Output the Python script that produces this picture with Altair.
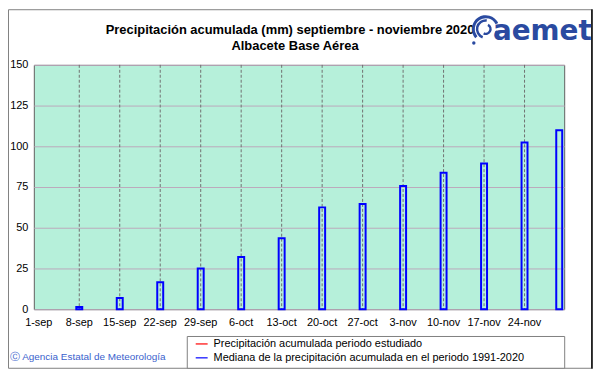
import altair as alt
import pandas as pd

# ---- data ----
bar_days = [7, 14, 21, 28, 35, 42, 49, 56, 63, 70, 77, 84, 90]
median_vals = [1.4, 6.9, 16.5, 25.0, 32.0, 43.6, 62.5, 64.6, 75.6, 83.7, 89.4, 102.3, 109.8]
tick_days = [0, 7, 14, 21, 28, 35, 42, 49, 56, 63, 70, 77, 84]
tick_labels = ["1-sep", "8-sep", "15-sep", "22-sep", "29-sep", "6-oct", "13-oct",
               "20-oct", "27-oct", "3-nov", "10-nov", "17-nov", "24-nov"]
y_ticks = [0, 25, 50, 75, 100, 125, 150]
title_line1 = "Precipitación acumulada (mm) septiembre - noviembre 2020"
title_line2 = "Albacete Base Aérea"
legend_labels = ["Precipitación acumulada periodo estudiado",
                 "Mediana de la precipitación acumulada en el periodo 1991-2020"]
legend_colors = ["#ff0000", "#0000ff"]
credit = "Ⓒ Agencia Estatal de Meteorología"
logo_text = "aemet"

W, H = 534, 246
FONT = "Liberation Sans"
xs = alt.Scale(domain=[0, 90], nice=False, zero=False)
ys = alt.Scale(domain=[0, 150], nice=False)


def one(s):
    return alt.Chart(pd.DataFrame({"t": [s]}))


def txt(s, x, y, **kw):
    return one(s).mark_text(**kw).encode(x=alt.value(x), y=alt.value(y), text="t:N")


frame = one("").mark_rect(fill="transparent", stroke="#808080", strokeWidth=1).encode(
    x=alt.value(-25.5), x2=alt.value(561.5), y=alt.value(-55.5), y2=alt.value(305.5))
frame_r = one("").mark_rule(color="#000000", strokeWidth=1.5).encode(
    x=alt.value(562), y=alt.value(-56), y2=alt.value(306))

base = alt.Chart(pd.DataFrame({"v": y_ticks})).mark_point(opacity=0).encode(
    y=alt.Y("v:Q", scale=ys, axis=alt.Axis(
        values=y_ticks, title=None, grid=True, gridColor="#bba9bb", gridWidth=1,
        ticks=False, domain=False, labelFont=FONT, labelFontSize=11,
        labelColor="#000000", labelPadding=6)))

vgrid = alt.Chart(pd.DataFrame({"d": tick_days[1:]})).mark_rule(
    color="#707070", strokeDash=[3, 2], strokeWidth=1).encode(
    x=alt.X("d:Q", scale=xs, axis=None))

bars = alt.Chart(pd.DataFrame({"d": bar_days, "v": median_vals})).mark_bar(
    filled=False, size=6, color="#0000ff", strokeWidth=2).encode(
    x=alt.X("d:Q", scale=xs, axis=None),
    y=alt.Y("v:Q", scale=ys))

xlabels = alt.Chart(pd.DataFrame({"d": tick_days, "l": tick_labels})).mark_text(
    font=FONT, fontSize=11, color="#000000", baseline="middle").encode(
    x=alt.X("d:Q", scale=xs, axis=None), y=alt.value(260), text="l:N")

t1 = txt(title_line1, 258, -35, font=FONT, fontSize=13, fontWeight="bold",
         color="#000000", align="center", baseline="middle")
t2 = txt(title_line2, 263, -19, font=FONT, fontSize=13, fontWeight="bold",
         color="#000000", align="center", baseline="middle")
logo = txt(logo_text, 512, -33, font="DejaVu Sans", fontSize=28, fontWeight="bold",
           color="#2a4aa0", align="center", baseline="middle")

arcs = []
for r1, r2, th1, th2 in [(14, 11, 4.0, 7.4), (10, 7.5, 3.5, 6.4), (6, 3.5, 0.5, 3.6)]:
    arcs.append(one("").mark_arc(radius=r1, radius2=r2, theta=th1, theta2=th2,
                                 color="#2a4aa0").encode(x=alt.value(455), y=alt.value(-36)))
dots = one("").mark_circle(size=12, color="#2a4aa0", opacity=1).encode(
    x=alt.value(443), y=alt.value(-22))
dot2 = one("").mark_circle(size=10, color="#2a4aa0", opacity=1).encode(
    x=alt.value(466), y=alt.value(-33))

credit_t = txt(credit, -24, 294, font=FONT, fontSize=10, color="#3a5fcd",
               align="left", baseline="middle")

leg_box = one("").mark_rect(fill="white", stroke="#808080", strokeWidth=1).encode(
    x=alt.value(154.5), x2=alt.value(534.5), y=alt.value(273.5), y2=alt.value(305.5))
leg_items = []
for i, (lab, col) in enumerate(zip(legend_labels, legend_colors)):
    yy = 281 + 14 * i
    leg_items.append(one(lab).mark_rule(color=col, strokeWidth=1.2).encode(
        x=alt.value(163), x2=alt.value(175), y=alt.value(yy)))
    leg_items.append(txt(lab, 181, yy, font=FONT, fontSize=11, color="#000000",
                         align="left", baseline="middle"))

chart = alt.layer(
    frame, frame_r, base, vgrid, bars, xlabels, t1, t2, *arcs, dots, dot2, logo,
    credit_t, leg_box, *leg_items
).properties(
    width=W, height=H,
    autosize=alt.AutoSizeParams(type="none"),
    padding={"left": 26, "top": 56, "right": 29, "bottom": 61},
    background="white",
).configure_view(fill="#b6f0da", stroke="#606060", strokeWidth=1)

chart.save("out.html", embed_options={"renderer": "svg", "actions": False})
